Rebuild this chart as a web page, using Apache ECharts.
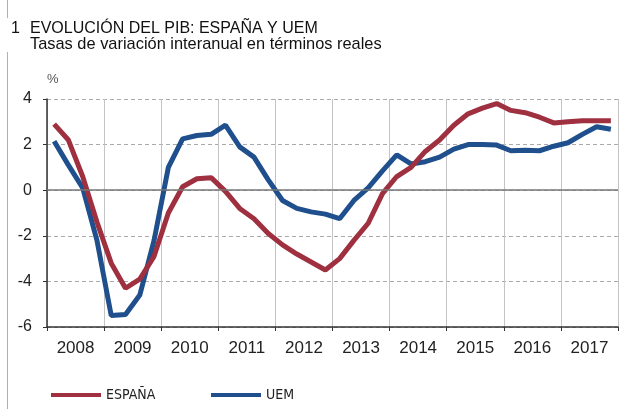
<!DOCTYPE html>
<html>
<head>
<meta charset="utf-8">
<script src="https://cdn.jsdelivr.net/npm/echarts@6/dist/echarts.min.js"></script>
<style>
  html, body { margin: 0; padding: 0; background: #fff; }
  #chart { width: 641px; height: 409px; }
</style>
</head>
<body>
<div id="chart"></div>
<script>
// años (etiquetas del eje x)
const years = ['2008', '2009', '2010', '2011', '2012', '2013', '2014', '2015', '2016', '2017'];
// trimestres, un punto por trimestre
const quarters = [];
years.forEach(y => { for (let q = 1; q <= 4; q++) quarters.push(y + 'T' + q); });

// tasas de variación interanual (%)
const espana = [2.9, 2.2, 0.6, -1.4, -3.2, -4.3, -3.9, -2.9, -1.0, 0.15, 0.5, 0.55,
  -0.05, -0.8, -1.25, -1.9, -2.4, -2.8, -3.15, -3.5, -3.0, -2.2, -1.45, -0.15,
  0.6, 1.0, 1.7, 2.2, 2.85, 3.35, 3.6, 3.8, 3.5, 3.4, 3.2, 2.95, 3.0, 3.05, 3.05, 3.05];
const uem = [2.15, 1.1, 0.1, -2.2, -5.5, -5.45, -4.6, -2.2, 1.0, 2.25, 2.4, 2.45,
  2.85, 1.9, 1.45, 0.45, -0.45, -0.8, -0.95, -1.05, -1.25, -0.45, 0.1, 0.85,
  1.55, 1.15, 1.25, 1.45, 1.8, 2.0, 2.0, 1.98, 1.73, 1.75, 1.73, 1.93, 2.08, 2.45, 2.78, 2.67];

const yTicks = { min: -6, max: 4, step: 2 };

const RED = '#9e3040';
const BLUE = '#1f4f8c';
const FONT = "'Liberation Sans', Arial, Helvetica, sans-serif";
const NARROW = "'Liberation Sans Narrow', 'DejaVu Sans Condensed', sans-serif";

const chart = echarts.init(document.getElementById('chart'));

chart.setOption({
  animation: false,
  backgroundColor: '#fff',
  grid: { left: 47, right: 23, top: 99, bottom: 82, containLabel: false },
  legend: [
    {
      data: ['ESPAÑA'], left: 46, top: 383, icon: 'rect',
      itemWidth: 50, itemHeight: 4, itemGap: 0,
      textStyle: { fontFamily: NARROW, fontSize: 14, color: '#222' }
    },
    {
      data: ['UEM'], left: 206, top: 383, icon: 'rect',
      itemWidth: 50, itemHeight: 4, itemGap: 0,
      textStyle: { fontFamily: NARROW, fontSize: 14, color: '#222' }
    }
  ],
  graphic: [
    { type: 'line', shape: { x1: 7.5, y1: 0, x2: 7.5, y2: 18 }, style: { stroke: '#b0b0b0', lineWidth: 1 } },
    { type: 'line', shape: { x1: 7.5, y1: 52, x2: 7.5, y2: 409 }, style: { stroke: '#b0b0b0', lineWidth: 1 } },
    { type: 'text', left: 11, top: 21, style: { text: '1', font: '16px ' + FONT, fill: '#111' } },
    { type: 'text', left: 30, top: 21, style: { text: 'EVOLUCIÓN DEL PIB: ESPAÑA Y UEM', font: '16px ' + FONT, fill: '#111' } },
    { type: 'text', left: 30, top: 36, style: { text: 'Tasas de variación interanual en términos reales', font: '16.4px ' + FONT, fill: '#111' } },
    { type: 'text', left: 47, top: 73, style: { text: '%', font: '13px ' + FONT, fill: '#555' } }
  ],
  xAxis: [
    {
      type: 'category', data: quarters, boundaryGap: true, show: false
    },
    {
      type: 'category', data: years, boundaryGap: true, position: 'bottom',
      axisLine: { show: true, onZero: false, lineStyle: { color: '#333', width: 1.5 } },
      axisTick: { show: true, length: 4, lineStyle: { color: '#333' } },
      axisLabel: { fontFamily: FONT, fontSize: 17, color: '#222', margin: 13 },
      splitLine: { show: true, lineStyle: { color: '#c4c4c4', width: 1 } }
    }
  ],
  yAxis: {
    type: 'value', min: yTicks.min, max: yTicks.max, interval: yTicks.step,
    axisLine: { show: true, lineStyle: { color: '#333', width: 1.5 } },
    axisTick: { show: true, length: 4, lineStyle: { color: '#333' } },
    axisLabel: { fontFamily: FONT, fontSize: 16, color: '#222', margin: 15 },
    splitLine: { show: true, lineStyle: { color: '#aaa', type: [4, 3], width: 1 } }
  },
  series: [
    {
      name: 'ESPAÑA', type: 'line', xAxisIndex: 0, data: espana,
      showSymbol: false, symbol: 'none', z: 3,
      lineStyle: { color: RED, width: 5 }, itemStyle: { color: RED },
      markLine: {
        silent: true, symbol: 'none', label: { show: false },
        lineStyle: { color: '#777', type: 'solid', width: 1.5 },
        data: [{ yAxis: 0 }]
      }
    },
    {
      name: 'UEM', type: 'line', xAxisIndex: 0, data: uem,
      showSymbol: false, symbol: 'none', z: 2,
      lineStyle: { color: BLUE, width: 5 }, itemStyle: { color: BLUE }
    }
  ]
});
</script>
</body>
</html>
